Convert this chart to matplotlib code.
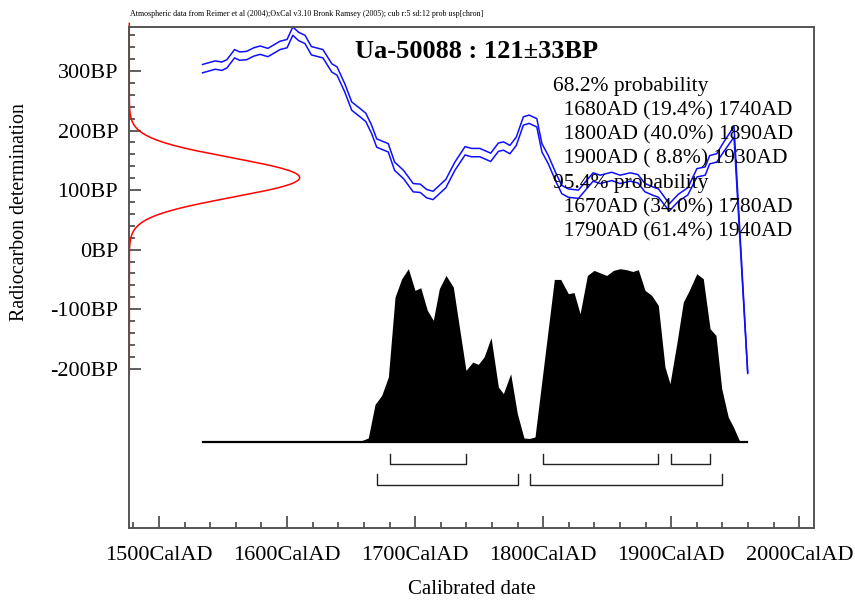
import numpy as np
import matplotlib.pyplot as plt
from matplotlib.ticker import FixedLocator

plt.rcParams['font.family'] = ['Liberation Serif', 'DejaVu Serif']

# calibration curve: year AD, mean BP, 1 sigma
cal_year = [1534, 1544, 1549, 1553, 1559, 1563, 1568.5, 1574, 1579, 1585, 1594.5, 1600,
            1604.5, 1609, 1614, 1619, 1628, 1635, 1639, 1645, 1650.5, 1657, 1661.5, 1666,
            1670, 1679, 1684, 1691, 1698.5, 1704, 1709, 1714, 1724, 1731, 1739, 1744,
            1750.5, 1759, 1765, 1769, 1774, 1779, 1784.5, 1789, 1795, 1799, 1804, 1810,
            1814.5, 1819.5, 1827.5, 1839, 1844.5, 1853.5, 1860, 1868, 1874, 1879.5, 1886,
            1890, 1898.5, 1905.5, 1913, 1920, 1926.5, 1930, 1935.5, 1940.5, 1949, 1959.7]
cal_bp = [304, 310, 308, 312, 329, 325, 326, 332, 335, 331, 343, 346,
          367, 358, 353, 334, 329, 305, 300, 272, 241, 230, 222, 202,
          179, 171, 140, 126, 104, 103, 94, 91, 111, 140, 166, 163,
          163, 155, 172, 174, 168, 182, 216, 219, 213, 171, 151, 121,
          101, 95, 93, 122, 118, 123, 118, 122, 119, 104, 98, 95,
          71, 87, 98, 129, 132, 151, 154, 171, 198, -207]
cal_sd = [7, 7, 7, 7, 7, 7, 7, 7, 7, 7, 7, 7,
          7, 7, 7, 7, 7, 7, 7, 7, 7, 7, 7, 7,
          7, 7, 7, 7, 7, 7, 7, 7, 7, 7, 7, 7,
          7, 7, 7, 7, 7, 7, 7, 7, 7, 7, 7, 7,
          7, 7, 7, 7, 7, 7, 7, 7, 7, 7, 7, 7,
          6, 6, 6, 7, 7, 7, 7, 8, 9, 1]

# radiocarbon date
r_date = 121
r_sd = 33

# calibrated probability (relative)
p_year = [1534.4, 1641.3, 1658.3, 1663.4, 1668.7, 1673.9, 1679.1, 1684.3, 1689.5, 1694.7,
          1699.9, 1704.4, 1709.5, 1714.2, 1718.9, 1724.1, 1729.8, 1739.7, 1745.0, 1749.3,
          1753.8, 1759.3, 1765.0, 1768.9, 1774.6, 1779.8, 1785.0, 1789.2, 1793.6, 1808.7,
          1813.7, 1819.6, 1824.1, 1828.8, 1834.5, 1839.7, 1849.6, 1854.8, 1860.0, 1865.2,
          1869.9, 1874.3, 1879.5, 1884.7, 1889.9, 1895.1, 1899.0, 1904.3, 1909.4, 1914.1,
          1919.9, 1925.0, 1930.3, 1934.9, 1939.4, 1944.5, 1948.5, 1953.7, 1959.4]
p_val = [0, 0, 0.008, 0.023, 0.217, 0.269, 0.375, 0.836, 0.942, 1.0,
         0.875, 0.890, 0.760, 0.702, 0.885, 0.961, 0.894, 0.413, 0.461, 0.448,
         0.490, 0.602, 0.317, 0.279, 0.394, 0.164, 0.023, 0.020, 0.029, 0.938,
         0.938, 0.856, 0.862, 0.740, 0.961, 0.990, 0.961, 0.990, 1.0, 0.994,
         0.984, 0.994, 0.875, 0.846, 0.788, 0.433, 0.337, 0.567, 0.807, 0.875,
         0.971, 0.942, 0.654, 0.615, 0.308, 0.144, 0.087, 0, 0]

ranges_68 = [(1680, 1740), (1800, 1890), (1900, 1930)]
ranges_95 = [(1670, 1780), (1790, 1940)]

x_major = [1500, 1600, 1700, 1800, 1900, 2000]
y_major = [300, 200, 100, 0, -100, -200]

info_lines = ["68.2% probability",
              "  1680AD (19.4%) 1740AD",
              "  1800AD (40.0%) 1890AD",
              "  1900AD ( 8.8%) 1930AD",
              "95.4% probability",
              "  1670AD (34.0%) 1780AD",
              "  1790AD (61.4%) 1940AD"]

fig = plt.figure(figsize=(8.55, 6.02), dpi=100)
ax = fig.add_axes([129.3 / 855, 1 - 528.3 / 602, 685 / 855, 501.6 / 602])
ax.set_xlim(1476.8, 2011.7)
ax.set_ylim(-468, 374.4)

for s in ax.spines.values():
    s.set_color('#555555')
    s.set_linewidth(1.4)

# calibration curve band
cy = np.array(cal_year)
cm = np.array(cal_bp)
cs = np.array(cal_sd)
ax.plot(cy, cm + cs, color='#0f0fff', lw=1.1)
ax.plot(cy, cm - cs, color='#0f0fff', lw=1.1)

# radiocarbon date on y axis
yy = np.linspace(-207, 380, 600)
dens = np.exp(-0.5 * ((yy - r_date) / r_sd) ** 2)
ax.plot(1476.8 + dens * 133, yy, color='red', lw=1.1, clip_on=False)

# probability distribution
base = -323
scale = 291
pv = np.array(p_val)
ax.fill_between(p_year, base, base + pv * scale, color='black', lw=0)
ax.plot([p_year[0], p_year[-1]], [base, base], color='black', lw=1.6)

# range brackets
for rs, yb, yt in [(ranges_68, -359.4, -342.6), (ranges_95, -395.9, -376.2)]:
    for a, b in rs:
        ax.plot([a, a, b, b], [yt, yb, yb, yt], color='#222222', lw=1.0)

ax.xaxis.set_major_locator(FixedLocator(x_major))
ax.xaxis.set_minor_locator(FixedLocator([v for v in range(1480, 2001, 20) if v % 100]))
ax.set_xticklabels([f"{v}CalAD" for v in x_major])
ax.yaxis.set_major_locator(FixedLocator(y_major))
ax.yaxis.set_minor_locator(FixedLocator([v for v in range(-200, 361, 20) if v % 100]))
ax.set_yticklabels([f"{v}BP" for v in y_major])
ax.tick_params(which='both', direction='in', color='#444444', width=1.2, labelsize=16)
ax.tick_params(which='major', length=8.5)
ax.tick_params(which='minor', length=4.3)
ax.tick_params(axis='x', pad=13)
ax.tick_params(axis='y', pad=8)

fig.text(129.5 / 855, 1 - 14.5 / 602, "Atmospheric data from Reimer et al (2004);OxCal v3.10 Bronk Ramsey (2005); cub r:5 sd:12 prob usp[chron]",
         fontsize=5.75, ha='left', va='center')
fig.text(477 / 855, 1 - 52 / 602, "Ua-50088 : 121\u00b133BP", fontsize=19, fontweight='bold',
         ha='center', va='center')
for i, line in enumerate(info_lines):
    fig.text(553 / 855, 1 - (86.7 + i * 24.2) / 602, line, fontsize=15.5, ha='left', va='center')

fig.text(20 / 855, 1 - 212 / 602, "Radiocarbon determination", rotation=90, fontsize=14.4,
         ha='center', va='center')
fig.text(471.8 / 855, 1 - 590 / 602, "Calibrated date", fontsize=15, ha='center', va='center')

fig.savefig('out.png', dpi=100)
